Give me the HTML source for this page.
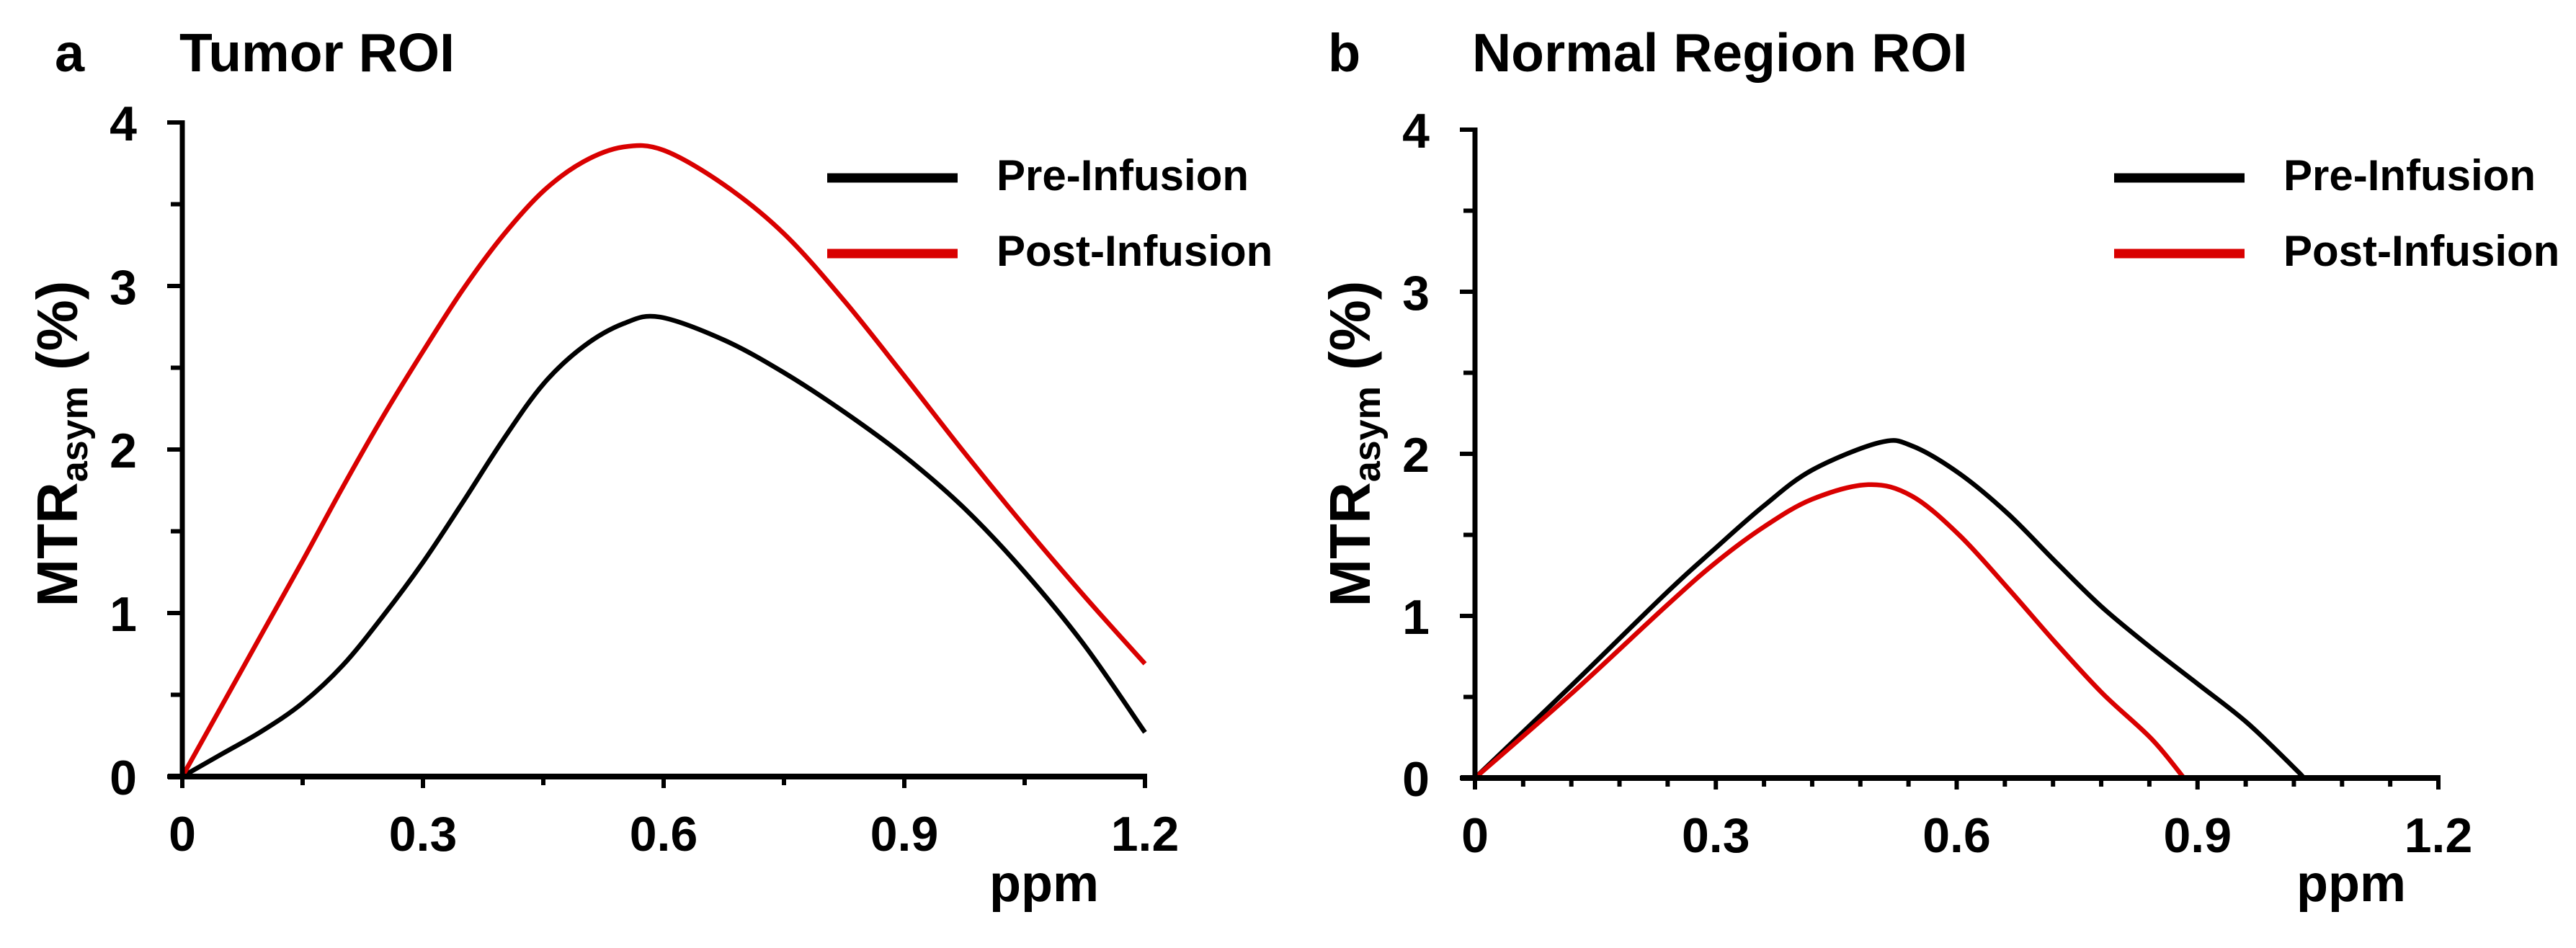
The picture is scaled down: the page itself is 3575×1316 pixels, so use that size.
<!DOCTYPE html>
<html><head><meta charset="utf-8"><style>
html,body{margin:0;padding:0;background:#fff;}
svg{display:block;font-family:"Liberation Sans",Arial,sans-serif;font-weight:bold;}
</style></head><body>
<svg id="chart" width="3575" height="1316" viewBox="0 0 3575 1316" xmlns="http://www.w3.org/2000/svg"></svg>
<script>
const xTicks = [0, 0.3, 0.6, 0.9, 1.2];
const xTickLabels = ["0", "0.3", "0.6", "0.9", "1.2"];
const yTicks = [0, 1, 2, 3, 4];
const yTickLabels = ["0", "1", "2", "3", "4"];

const tumorPreX = [0,0.05,0.1,0.15,0.2,0.25,0.3,0.35,0.4,0.45,0.5,0.55,0.595,0.675,0.75,0.825,0.9,0.975,1.05,1.125,1.2];
const tumorPre = [0,0.14,0.28,0.45,0.68,0.98,1.31,1.68,2.06,2.4,2.63,2.77,2.81,2.67,2.47,2.23,1.96,1.64,1.25,0.8,0.27];
const tumorPostX = [0,0.05,0.1,0.15,0.2,0.25,0.3,0.35,0.4,0.45,0.5,0.55,0.6,0.675,0.75,0.825,0.9,0.975,1.05,1.125,1.2];
const tumorPost = [0,0.44,0.88,1.32,1.77,2.2,2.6,2.98,3.31,3.58,3.76,3.85,3.83,3.62,3.32,2.91,2.45,1.98,1.53,1.1,0.69];

const normalPreX = [0,0.12,0.24,0.3,0.36,0.42,0.504,0.544,0.603,0.664,0.724,0.782,0.843,0.903,0.962,1.023,1.032];
const normalPre = [0,0.57,1.15,1.42,1.68,1.9,2.07,2.05,1.88,1.63,1.33,1.05,0.8,0.57,0.34,0.05,0];
const normalPostX = [0,0.12,0.24,0.3,0.36,0.42,0.49,0.544,0.603,0.664,0.724,0.782,0.843,0.883];
const normalPost = [0,0.52,1.07,1.33,1.55,1.72,1.81,1.74,1.5,1.17,0.83,0.52,0.24,0];

const NS = "http://www.w3.org/2000/svg";
const svg = document.getElementById('chart');
function mk(tag, attrs, parent){ const e=document.createElementNS(NS,tag); for(const k in attrs) e.setAttribute(k,attrs[k]); (parent||svg).appendChild(e); return e; }

function smoothPath(pts){
  let d = "M"+pts[0][0].toFixed(1)+","+pts[0][1].toFixed(1);
  for(let i=0;i<pts.length-1;i++){
    const p0=pts[Math.max(0,i-1)], p1=pts[i], p2=pts[i+1], p3=pts[Math.min(pts.length-1,i+2)];
    const c1=[p1[0]+(p2[0]-p0[0])/6, p1[1]+(p2[1]-p0[1])/6];
    const c2=[p2[0]-(p3[0]-p1[0])/6, p2[1]-(p3[1]-p1[1])/6];
    d+=" C"+c1[0].toFixed(1)+","+c1[1].toFixed(1)+" "+c2[0].toFixed(1)+","+c2[1].toFixed(1)+" "+p2[0].toFixed(1)+","+p2[1].toFixed(1);
  }
  return d;
}

function panel(cfg){
  const g = mk('g', {});
  
  
  const X = v => cfg.x0 + (v/1.2)*(cfg.x1-cfg.x0);
  const Y = v => cfg.y0 - (v/4)*(cfg.y0-cfg.y4);

  let t = mk('text', {x:cfg.letterX, y:99, 'font-size':74}, g); t.textContent = cfg.letter;
   
  t = mk('text', {x:cfg.x0-4, y:99, 'font-size':75}, g); t.textContent = cfg.title;
   

  cfg.series.forEach(s=>{
    const pts = s.x.map((xv,i)=>[X(xv), Y(s.y[i])]);
    const p = mk('path', {d:smoothPath(pts), fill:'none', stroke:s.color, 'stroke-width':6.5, 'stroke-linejoin':'round'}, g);
    
    
  });

  let a = mk('line', {x1:cfg.x0, y1:Y(4)-3, x2:cfg.x0, y2:cfg.y0+4, stroke:'#000','stroke-width':7}, g);
   
  a = mk('line', {x1:cfg.x0-20, y1:cfg.y0, x2:X(1.2)+3, y2:cfg.y0, stroke:'#000','stroke-width':8}, g);
   

  for(let v=0; v<=4.001; v+=0.5){
    const major = Math.abs(v-Math.round(v))<1e-6;
    const tk = mk('line', {x1:cfg.x0-(major?21:16), y1:Y(v), x2:cfg.x0, y2:Y(v), stroke:'#000','stroke-width':6}, g);
     
  }
  yTicks.forEach((v,i)=>{
    const tl = mk('text', {x:cfg.x0-63, y:Y(v)+25, 'font-size':68, 'text-anchor':'end'}, g);
    tl.textContent = yTickLabels[i];
     
  });
  const n = Math.round(1.2/cfg.minor);
  for(let i=0;i<=n;i++){
    const v=i*cfg.minor;
    const major = Math.abs(v/0.3-Math.round(v/0.3))<1e-6;
    const tk = mk('line', {x1:X(v), y1:cfg.y0, x2:X(v), y2:cfg.y0+(major?16:12), stroke:'#000','stroke-width':6}, g);
     
  }
  xTicks.forEach((v,i)=>{
    const tl = mk('text', {x:X(v), y:cfg.y0+103, 'font-size':68, 'text-anchor':'middle'}, g);
    tl.textContent = xTickLabels[i];
     
  });
  t = mk('text', {x:cfg.ppmX, y:1251, 'font-size':72}, g); t.textContent = 'ppm';
   

  t = mk('text', {x:0, y:0, 'font-size':80, 'text-anchor':'middle', transform:'translate('+(cfg.x0-146)+',616) rotate(-90)'}, g);
   
  const t1 = mk('tspan', {}, t); t1.textContent='MTR';
  const t2 = mk('tspan', {'font-size':52, dy:14}, t); t2.textContent='asym';
  const t3 = mk('tspan', {dy:-14}, t); t3.textContent=' (%)';

  cfg.series.forEach((s,i)=>{
    const ly = 247 + i*105;
    const lg = mk('g', {}, g);
     
    mk('line', {x1:cfg.legX, y1:ly, x2:cfg.legX+181, y2:ly, stroke:s.color, 'stroke-width':13}, lg);
    const lt = mk('text', {x:cfg.legX+235, y:ly+17, 'font-size':60}, lg);
    lt.textContent = s.label;
  });
}

panel({name:'panel-a-tumor', letter:'a', letterX:76, title:'Tumor ROI', x0:253, x1:1589, y0:1078, y4:170, minor:0.15, ppmX:1373, legX:1148,
  series:[{name:'tumor-pre-infusion-line', label:'Pre-Infusion', color:'#000', x:tumorPreX, y:tumorPre},
          {name:'tumor-post-infusion-line', label:'Post-Infusion', color:'#d90000', x:tumorPostX, y:tumorPost}]});
panel({name:'panel-b-normal', letter:'b', letterX:1843, title:'Normal Region ROI', x0:2047, x1:3384, y0:1080, y4:180, minor:0.06, ppmX:3187, legX:2934,
  series:[{name:'normal-pre-infusion-line', label:'Pre-Infusion', color:'#000', x:normalPreX, y:normalPre},
          {name:'normal-post-infusion-line', label:'Post-Infusion', color:'#d90000', x:normalPostX, y:normalPost}]});
</script>
</body></html>
